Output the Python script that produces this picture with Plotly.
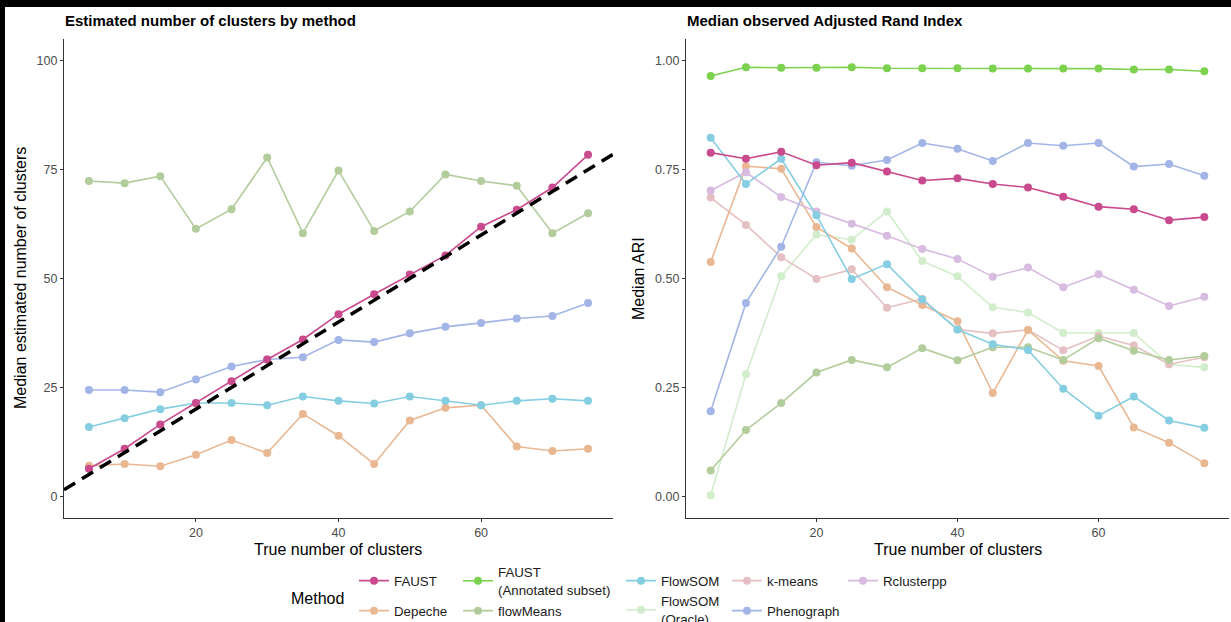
import plotly.graph_objects as go

# ---------------- data ----------------
true_k = [5, 10, 15, 20, 25, 30, 35, 40, 45, 50, 55, 60, 65, 70, 75]

# Left panel: median estimated number of clusters
est_faust = [6.3, 10.9, 16.5, 21.4, 26.4, 31.4, 36.0, 41.8, 46.4, 50.9, 55.3, 61.9, 65.8, 70.9, 78.4]
est_flowmeans = [72.4, 71.9, 73.5, 61.4, 65.9, 77.8, 60.4, 74.8, 60.9, 65.4, 73.9, 72.4, 71.3, 60.4, 65.0]
est_phenograph = [24.4, 24.4, 23.9, 26.8, 29.8, 31.4, 31.9, 35.9, 35.4, 37.4, 38.9, 39.8, 40.8, 41.4, 44.4]
est_flowsom = [15.9, 17.9, 20.0, 21.4, 21.4, 20.9, 22.9, 21.9, 21.3, 22.9, 21.9, 20.9, 21.9, 22.4, 21.9]
est_depeche = [7.0, 7.4, 6.9, 9.5, 12.9, 9.9, 18.9, 13.9, 7.4, 17.4, 20.3, 20.9, 11.4, 10.4, 10.9]

# Right panel: median ARI
ari_faust = [0.789, 0.775, 0.791, 0.760, 0.766, 0.746, 0.725, 0.730, 0.717, 0.709, 0.688, 0.665, 0.659, 0.634, 0.641]
ari_faust_annot = [0.965, 0.985, 0.984, 0.984, 0.985, 0.983, 0.983, 0.983, 0.982, 0.982, 0.982, 0.982, 0.980, 0.980, 0.976]
ari_flowsom = [0.823, 0.717, 0.775, 0.645, 0.499, 0.533, 0.452, 0.383, 0.349, 0.336, 0.247, 0.185, 0.229, 0.174, 0.157]
ari_kmeans = [0.686, 0.623, 0.549, 0.499, 0.521, 0.433, 0.453, 0.383, 0.374, 0.382, 0.335, 0.368, 0.346, 0.303, 0.319]
ari_rclusterpp = [0.702, 0.744, 0.687, 0.654, 0.626, 0.598, 0.568, 0.545, 0.504, 0.525, 0.480, 0.510, 0.474, 0.437, 0.458]
ari_depeche = [0.538, 0.758, 0.752, 0.618, 0.569, 0.480, 0.439, 0.402, 0.237, 0.382, 0.311, 0.299, 0.158, 0.123, 0.076]
ari_flowmeans = [0.059, 0.152, 0.214, 0.284, 0.313, 0.296, 0.340, 0.312, 0.342, 0.342, 0.313, 0.363, 0.334, 0.313, 0.322]
ari_flowsom_oracle = [0.002, 0.280, 0.505, 0.601, 0.589, 0.654, 0.540, 0.505, 0.434, 0.422, 0.375, 0.375, 0.375, 0.303, 0.296]
ari_phenograph = [0.195, 0.444, 0.573, 0.767, 0.759, 0.772, 0.811, 0.798, 0.770, 0.811, 0.805, 0.811, 0.757, 0.763, 0.736]

methods = ["FAUST", "Depeche", "FAUST<br>(Annotated subset)", "flowMeans", "FlowSOM",
           "FlowSOM<br>(Oracle)", "k-means", "Phenograph", "Rclusterpp"]
colors = {
    "FAUST": "#C94A8D",
    "Depeche": "#E9B893",
    "FAUST<br>(Annotated subset)": "#7CD14E",
    "flowMeans": "#B3CC9C",
    "FlowSOM": "#85CEE2",
    "FlowSOM<br>(Oracle)": "#D2EDCB",
    "k-means": "#E5C0C2",
    "Phenograph": "#A3B5E6",
    "Rclusterpp": "#D7BBE0",
}

left_series = {
    "flowMeans": est_flowmeans,
    "Depeche": est_depeche,
    "FlowSOM": est_flowsom,
    "Phenograph": est_phenograph,
    "FAUST": est_faust,
}
right_series = {
    "FlowSOM<br>(Oracle)": ari_flowsom_oracle,
    "k-means": ari_kmeans,
    "Depeche": ari_depeche,
    "flowMeans": ari_flowmeans,
    "Rclusterpp": ari_rclusterpp,
    "FlowSOM": ari_flowsom,
    "Phenograph": ari_phenograph,
    "FAUST": ari_faust,
    "FAUST<br>(Annotated subset)": ari_faust_annot,
}

# ---------------- geometry helpers (page pixels -> paper) ----------------
W, H = 1226, 615
OX, OY = 5, 7


def px(x):
    return (x - OX) / W


def py(y):
    return 1 - (y - OY) / H


fig = go.Figure()

line_w = 1.6
msize = 8

for name, vals in left_series.items():
    fig.add_trace(go.Scatter(
        x=true_k, y=vals, mode="lines+markers", name=name,
        line=dict(color=colors[name], width=line_w),
        marker=dict(color=colors[name], size=msize),
        xaxis="x", yaxis="y", showlegend=False, hoverinfo="skip"))

# identity reference line y = x across the axis range
ref_x = [1.5, 78.5]
fig.add_trace(go.Scatter(
    x=ref_x, y=ref_x, mode="lines", line=dict(color="black", width=3.5, dash="13px,8px"),
    xaxis="x", yaxis="y", showlegend=False, hoverinfo="skip"))

legend_slots = {
    # name: (text-left-x in page px, center y in page px)
    "FAUST": (393, 581),
    "Depeche": (393, 611),
    "FAUST<br>(Annotated subset)": (497, 581),
    "flowMeans": (497, 611),
    "FlowSOM": (660, 581),
    "FlowSOM<br>(Oracle)": (660, 610),
    "k-means": (766, 581),
    "Phenograph": (766, 611),
    "Rclusterpp": (882, 581),
}

legend_layouts = {}
for i, name in enumerate(methods):
    lid = "legend" if i == 0 else f"legend{i + 1}"
    tx, ty = legend_slots[name]
    legend_layouts[lid] = dict(
        x=px(tx - 39), y=py(ty), xanchor="left", yanchor="middle",
        bgcolor="rgba(0,0,0,0)", borderwidth=0,
        font=dict(family="Liberation Sans, Arial, sans-serif", size=13.3, color="#1a1a1a"),
        itemwidth=30, tracegroupgap=0, valign="middle")

for name, vals in right_series.items():
    lid_index = methods.index(name)
    lid = "legend" if lid_index == 0 else f"legend{lid_index + 1}"
    fig.add_trace(go.Scatter(
        x=true_k, y=vals, mode="lines+markers", name=name,
        line=dict(color=colors[name], width=line_w),
        marker=dict(color=colors[name], size=msize),
        xaxis="x2", yaxis="y2", showlegend=True, legend=lid, hoverinfo="skip"))

axis_common = dict(
    showgrid=False, zeroline=False, showline=True, linecolor="#333333", linewidth=1.1,
    ticks="outside", ticklen=3, tickcolor="#333333", tickwidth=1.1,
    tickfont=dict(family="Liberation Sans, Arial, sans-serif", size=12.5, color="#4D4D4D"),
)

fig.update_layout(
    width=W, height=H,
    margin=dict(l=0, r=0, t=0, b=0, pad=0, autoexpand=False),
    paper_bgcolor="white", plot_bgcolor="white",
    font=dict(family="Liberation Sans, Arial, sans-serif"),
    xaxis=dict(domain=[px(64), px(613)], range=[1.5, 78.5], tickvals=[20, 40, 60],
               anchor="y", **axis_common),
    yaxis=dict(domain=[py(518), py(39)], range=[-5, 105], tickvals=[0, 25, 50, 75, 100],
               anchor="x", **axis_common),
    xaxis2=dict(domain=[px(686), px(1229)], range=[1.5, 78.5], tickvals=[20, 40, 60],
                anchor="y2", **axis_common),
    yaxis2=dict(domain=[py(518), py(39)], range=[-0.05, 1.05],
                tickvals=[0, 0.25, 0.5, 0.75, 1.0], ticktext=["0.00", "0.25", "0.50", "0.75", "1.00"],
                anchor="x2", **axis_common),
    **legend_layouts,
)

title_font = dict(family="Liberation Sans, Arial, sans-serif", size=15, color="black")
label_font = dict(family="Liberation Sans, Arial, sans-serif", size=16, color="black")
annotations = [
    dict(text="<b>Estimated number of clusters by method</b>", x=px(63), y=py(21),
         xanchor="left", yanchor="middle", font=title_font),
    dict(text="<b>Median observed Adjusted Rand Index</b>", x=px(685), y=py(21),
         xanchor="left", yanchor="middle", font=title_font),
    dict(text="True number of clusters", x=px(338), y=py(549),
         xanchor="center", yanchor="middle", font=label_font),
    dict(text="True number of clusters", x=px(958), y=py(549),
         xanchor="center", yanchor="middle", font=label_font),
    dict(text="Median estimated number of clusters", x=px(20), y=py(278), textangle=-90,
         xanchor="center", yanchor="middle", font=label_font),
    dict(text="Median ARI", x=px(638), y=py(278), textangle=-90,
         xanchor="center", yanchor="middle", font=label_font),
    dict(text="Method", x=px(318), y=py(598),
         xanchor="center", yanchor="middle", font=label_font),
]
for a in annotations:
    a.update(xref="paper", yref="paper", showarrow=False)
fig.update_layout(annotations=annotations)

post = ("document.body.style.margin='0';document.body.style.background='#000';"
        "document.body.style.overflow='hidden';"
        "var gd=document.getElementById('{plot_id}');"
        "gd.style.position='absolute';gd.style.left='5px';gd.style.top='7px';")

fig.write_html("out.html", post_script=post, config={"displayModeBar": False})
